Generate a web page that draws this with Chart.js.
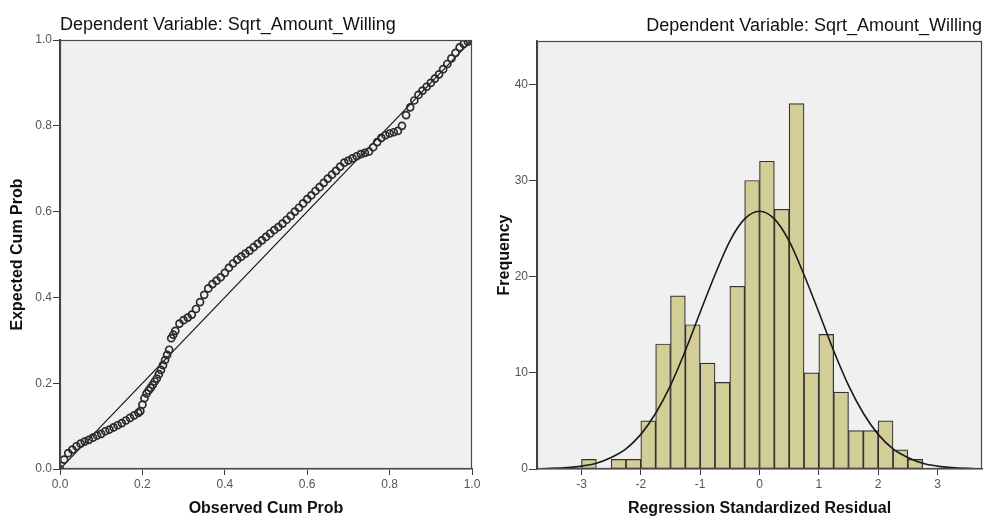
<!DOCTYPE html>
<html>
<head>
<meta charset="utf-8">
<title>Regression residual plots</title>
<script src="https://cdn.jsdelivr.net/npm/chart.js@4.4.1/dist/chart.umd.min.js"></script>
<style>
  html, body { margin: 0; padding: 0; background: #fff; }
  .wrap { position: relative; width: 988px; height: 519px; }
  .panel { position: absolute; top: 0; width: 494px; height: 519px; }
  #ppPanel { left: 0; }
  #histPanel { left: 494px; }
</style>
</head>
<body>
<div class="wrap">
  <div class="panel" id="ppPanel"><canvas id="ppChart" width="494" height="519"></canvas></div>
  <div class="panel" id="histPanel"><canvas id="histChart" width="494" height="519"></canvas></div>
</div>
<script>
// ========== DATA ==========
const chartTitle = 'Dependent Variable: Sqrt_Amount_Willing';

// Normal P-P plot of regression standardized residual (left)
const observedCumProb = [
    0.00, 0.01, 0.02, 0.03, 0.04, 0.05, 0.06, 0.07, 0.08, 0.09,
    0.10, 0.11, 0.12, 0.13, 0.14, 0.15, 0.16, 0.17, 0.18, 0.19,
    0.195, 0.20, 0.205, 0.21, 0.215, 0.22, 0.225, 0.23, 0.235, 0.24,
    0.245, 0.25, 0.255, 0.26, 0.265, 0.27, 0.275, 0.28, 0.29,
    0.30, 0.31, 0.32, 0.33, 0.34, 0.35, 0.36, 0.37, 0.38, 0.39,
    0.40, 0.41, 0.42, 0.43, 0.44, 0.45, 0.46, 0.47, 0.48, 0.49,
    0.50, 0.51, 0.52, 0.53, 0.54, 0.55, 0.56, 0.57, 0.58, 0.59,
    0.60, 0.61, 0.62, 0.63, 0.64, 0.65, 0.66, 0.67, 0.68, 0.69,
    0.70, 0.71, 0.72, 0.73, 0.74, 0.75, 0.76, 0.77, 0.78, 0.79,
    0.80, 0.81, 0.82, 0.83, 0.84, 0.85, 0.86, 0.87, 0.88, 0.89,
    0.90, 0.91, 0.92, 0.93, 0.94, 0.95, 0.96, 0.97, 0.98, 0.99,
    1.00
];
const expectedCumProb = [
    0.000, 0.022, 0.037, 0.045, 0.053, 0.059, 0.064, 0.068, 0.073, 0.078,
    0.082, 0.088, 0.092, 0.097, 0.102, 0.107, 0.113, 0.119, 0.125, 0.131,
    0.135, 0.150, 0.165, 0.176, 0.183, 0.189, 0.196, 0.204, 0.211, 0.221,
    0.231, 0.242, 0.254, 0.266, 0.278, 0.305, 0.313, 0.322, 0.339,
    0.347, 0.353, 0.360, 0.373, 0.389, 0.406, 0.421, 0.431, 0.439, 0.447,
    0.457, 0.469, 0.479, 0.488, 0.495, 0.502, 0.509, 0.517, 0.525, 0.533,
    0.541, 0.549, 0.557, 0.564, 0.572, 0.581, 0.590, 0.600, 0.609, 0.619,
    0.629, 0.638, 0.648, 0.657, 0.667, 0.677, 0.686, 0.695, 0.705, 0.714,
    0.719, 0.724, 0.729, 0.734, 0.737, 0.740, 0.750, 0.762, 0.772, 0.778,
    0.782, 0.785, 0.788, 0.800, 0.825, 0.843, 0.859, 0.872, 0.882, 0.891,
    0.900, 0.910, 0.920, 0.932, 0.944, 0.957, 0.970, 0.983, 0.991, 0.996,
    1.000
];
const ppTicks = [0, 0.2, 0.4, 0.6, 0.8, 1.0];

// Histogram of regression standardized residual (right), bins 0.25 wide
const residualBins = [
    -2.875, -2.625, -2.375, -2.125, -1.875, -1.625, -1.375, -1.125,
    -0.875, -0.625, -0.375, -0.125, 0.125, 0.375, 0.625, 0.875,
    1.125, 1.375, 1.625, 1.875, 2.125, 2.375, 2.625
];
const frequency = [
    1, 0, 1, 1, 5, 13, 18, 15,
    11, 9, 19, 30, 32, 27, 38, 10,
    14, 8, 4, 4, 5, 2, 1
];
// normal curve overlay
const normalCurveX = [
    -3.75, -3.5, -3.25, -3.0, -2.75, -2.5, -2.25, -2.0, -1.75, -1.5, -1.25, -1.0, -0.75, -0.5, -0.25,
    0,
    0.25, 0.5, 0.75, 1.0, 1.25, 1.5, 1.75, 2.0, 2.25, 2.5, 2.75, 3.0, 3.25, 3.5, 3.75
];
const normalCurveY = [
    0.02, 0.06, 0.14, 0.3, 0.6, 1.2, 2.1, 3.6, 5.8, 8.7, 12.3, 16.3, 20.2, 23.7, 26.0,
    26.8,
    26.0, 23.7, 20.2, 16.3, 12.3, 8.7, 5.8, 3.6, 2.1, 1.2, 0.6, 0.3, 0.14, 0.06, 0.02
];
const residualTicks = [-3, -2, -1, 0, 1, 2, 3];
const frequencyTicks = [0, 10, 20, 30, 40];

// ========== STYLE ==========
Chart.defaults.font.family = '"Liberation Sans", Arial, sans-serif';
Chart.defaults.animation = false;

const axisColor = '#3c3c3c';
const tickLabelColor = '#555';
const titleFont = { size: 18, weight: 'normal' };
const axisTitleFont = { size: 16, weight: 'bold' };

// grey plot background + frame round the chart area
const plotFrame = {
    id: 'plotFrame',
    beforeDraw(chart) {
        const { ctx, chartArea: a } = chart;
        ctx.save();
        ctx.fillStyle = '#f0f0f0';
        ctx.fillRect(a.left, a.top, a.right - a.left, a.bottom - a.top);
        ctx.restore();
    },
    afterDraw(chart) {
        const { ctx, chartArea: a } = chart;
        ctx.save();
        ctx.strokeStyle = '#4a4a4a';
        ctx.lineWidth = 1.2;
        ctx.strokeRect(a.left + 0.5, a.top + 0.5, a.right - a.left - 1, a.bottom - a.top - 1);
        ctx.restore();
    }
};

// ========== P-P PLOT ==========
function initPPChart() {
    const ctx = document.getElementById('ppChart').getContext('2d');
    new Chart(ctx, {
        type: 'scatter',
        data: {
            datasets: [{
                label: 'Residuals',
                data: observedCumProb.map((x, i) => ({ x, y: expectedCumProb[i] })),
                pointRadius: 3.5,
                pointBorderWidth: 1.7,
                pointBorderColor: '#2a2a2a',
                pointBackgroundColor: 'rgba(0,0,0,0)',
                order: 1
            }, {
                type: 'line',
                label: 'Diagonal',
                data: [{ x: 0, y: 0 }, { x: 1, y: 1 }],
                borderColor: '#111',
                borderWidth: 1.2,
                pointRadius: 0,
                order: 2
            }]
        },
        options: {
            responsive: false,
            layout: { padding: { left: 0, right: 22, top: 0, bottom: 0 } },
            plugins: {
                legend: { display: false },
                tooltip: { enabled: false },
                title: {
                    display: true, text: chartTitle, align: 'start', fullSize: false,
                    font: titleFont, color: '#111', padding: { top: 14, bottom: 4.4 }
                }
            },
            scales: {
                x: {
                    type: 'linear', min: 0, max: 1,
                    afterBuildTicks: axis => { axis.ticks = ppTicks.map(v => ({ value: v })); },
                    afterFit: axis => { axis.height = 50; },
                    ticks: { callback: v => v.toFixed(1), color: tickLabelColor, font: { size: 12 }, padding: 2, maxRotation: 0, autoSkip: false },
                    grid: { drawOnChartArea: false, tickLength: 6, color: axisColor },
                    border: { color: axisColor, width: 1.5 },
                    title: { display: true, text: 'Observed Cum Prob', font: axisTitleFont, color: '#111', padding: { top: 0, bottom: 1 } }
                },
                y: {
                    type: 'linear', min: 0, max: 1,
                    afterBuildTicks: axis => { axis.ticks = ppTicks.map(v => ({ value: v })); },
                    afterFit: axis => { axis.width = 60; },
                    ticks: { callback: v => v.toFixed(1), color: tickLabelColor, font: { size: 12 }, padding: 1, autoSkip: false },
                    grid: { drawOnChartArea: false, tickLength: 7, color: axisColor },
                    border: { color: axisColor, width: 2 },
                    title: { display: true, text: 'Expected Cum Prob', font: axisTitleFont, color: '#111', padding: { top: 8.4, bottom: 0 } }
                }
            }
        },
        plugins: [plotFrame]
    });
}

// ========== HISTOGRAM ==========
function initHistChart() {
    const ctx = document.getElementById('histChart').getContext('2d');
    new Chart(ctx, {
        type: 'bar',
        data: {
            datasets: [{
                type: 'bar',
                label: 'Frequency',
                data: residualBins.map((x, i) => ({ x, y: frequency[i] })),
                backgroundColor: '#d3ce97',
                borderColor: '#333',
                borderWidth: 1.2,
                borderSkipped: false,
                barPercentage: 1,
                categoryPercentage: 1,
                order: 2
            }, {
                type: 'line',
                label: 'Normal',
                data: normalCurveX.map((x, i) => ({ x, y: normalCurveY[i] })),
                borderColor: '#1a1a1a',
                borderWidth: 1.6,
                pointRadius: 0,
                cubicInterpolationMode: 'monotone',
                fill: false,
                order: 1
            }]
        },
        options: {
            responsive: false,
            layout: { padding: { left: 0, right: 6, top: 1, bottom: 0 } },
            plugins: {
                legend: { display: false },
                tooltip: { enabled: false },
                title: {
                    display: true, text: chartTitle, align: 'end', fullSize: false,
                    font: titleFont, color: '#111', padding: { top: 14, bottom: 4.4 }
                }
            },
            scales: {
                x: {
                    type: 'linear', min: -3.75, max: 3.75, offset: false,
                    afterBuildTicks: axis => { axis.ticks = residualTicks.map(v => ({ value: v })); },
                    afterFit: axis => { axis.height = 50; },
                    ticks: { color: tickLabelColor, font: { size: 12 }, padding: 2, maxRotation: 0, autoSkip: false },
                    grid: { offset: false, drawOnChartArea: false, tickLength: 6, color: axisColor },
                    border: { color: axisColor, width: 1.5 },
                    title: { display: true, text: 'Regression Standardized Residual', font: axisTitleFont, color: '#111', padding: { top: 0, bottom: 1 } }
                },
                y: {
                    type: 'linear', min: 0, max: 44.5,
                    afterBuildTicks: axis => { axis.ticks = frequencyTicks.map(v => ({ value: v })); },
                    afterFit: axis => { axis.width = 43; },
                    ticks: { color: tickLabelColor, font: { size: 12 }, padding: 1, autoSkip: false },
                    grid: { drawOnChartArea: false, tickLength: 8, color: axisColor },
                    border: { color: axisColor, width: 1.5 },
                    title: { display: true, text: 'Frequency', font: axisTitleFont, color: '#111', padding: { top: 1, bottom: 0 } }
                }
            }
        },
        plugins: [plotFrame]
    });
}

// ========== INIT ==========
initPPChart();
initHistChart();
</script>
</body>
</html>
